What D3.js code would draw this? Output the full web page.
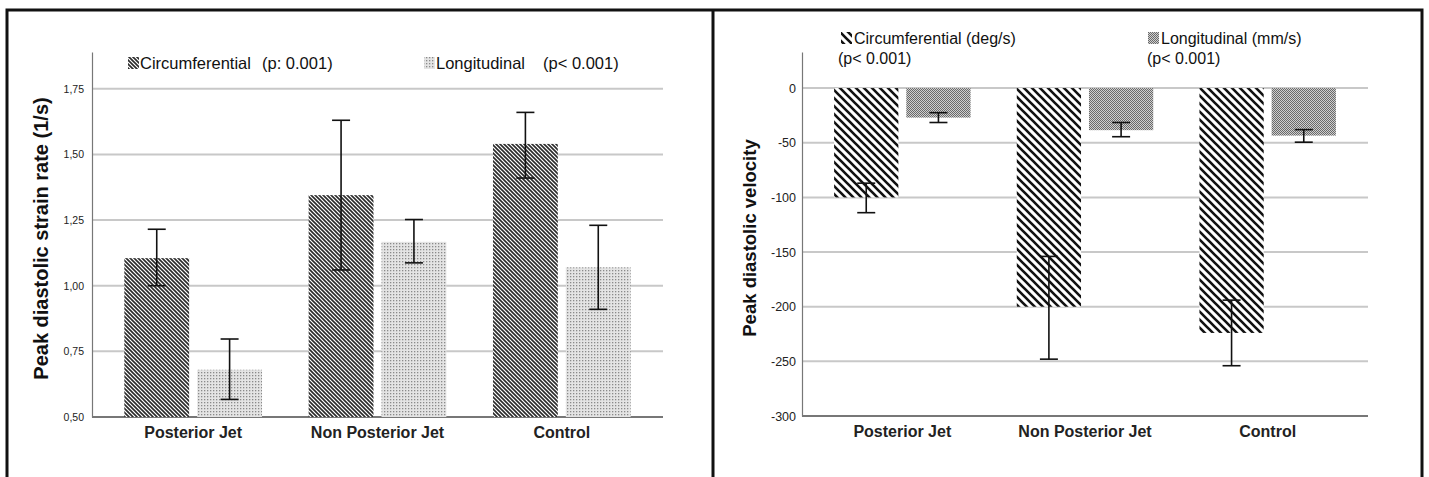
<!DOCTYPE html>
<html>
<head>
<meta charset="utf-8">
<script src="https://cdn.jsdelivr.net/npm/d3@7"></script>
<style>
  body { margin: 0; background: #fff; }
  text { font-family: "Liberation Sans", Arial, sans-serif; }
</style>
</head>
<body>
<div id="chart"></div>
<script>
// Data
const categories = ["Posterior Jet", "Non Posterior Jet", "Control"];

const strainCirc = [1.105, 1.345, 1.54];
const strainCircLo = [1.0, 1.06, 1.41];
const strainCircHi = [1.215, 1.63, 1.66];
const strainLong = [0.68, 1.167, 1.07];
const strainLongLo = [0.567, 1.087, 0.91];
const strainLongHi = [0.797, 1.252, 1.23];
const strainTicks = [0.5, 0.75, 1.0, 1.25, 1.5, 1.75];

const velCirc = [-100, -200, -224];
const velCircLo = [-114, -248, -254];
const velCircHi = [-87, -154, -194];
const velLong = [-27, -38.5, -43.5];
const velLongLo = [-31.5, -44.5, -49.5];
const velLongHi = [-22.5, -31.5, -38];
const velTicks = [0, -50, -100, -150, -200, -250, -300];

const width = 1429;
const height = 477;

const svg = d3.select("#chart").append("svg")
  .attr("width", width)
  .attr("height", height);

// Patterns
const defs = svg.append("defs");

const p1 = defs.append("pattern").attr("id", "diagDense")
  .attr("patternUnits", "userSpaceOnUse").attr("width", 4).attr("height", 4);
p1.append("rect").attr("width", 4).attr("height", 4).attr("fill", "#fff");
p1.append("path").attr("d", "M-1,-1 L5,5 M-1,3 L1,5 M3,-1 L5,1")
  .attr("stroke", "#2a2a2a").attr("stroke-width", 1.6);

const p2 = defs.append("pattern").attr("id", "dots")
  .attr("patternUnits", "userSpaceOnUse").attr("width", 3).attr("height", 3);
p2.append("rect").attr("width", 3).attr("height", 3).attr("fill", "#e4e4e4");
p2.append("rect").attr("width", 1.3).attr("height", 1.3).attr("fill", "#8a8a8a");

const p3 = defs.append("pattern").attr("id", "diagWide")
  .attr("patternUnits", "userSpaceOnUse").attr("width", 8).attr("height", 8);
p3.append("rect").attr("width", 8).attr("height", 8).attr("fill", "#fff");
p3.append("path").attr("d", "M-2,-2 L10,10 M-2,6 L2,10 M6,-2 L10,2")
  .attr("stroke", "#111").attr("stroke-width", 2.6);

const p4 = defs.append("pattern").attr("id", "checker")
  .attr("patternUnits", "userSpaceOnUse").attr("width", 2).attr("height", 2);
p4.append("rect").attr("width", 2).attr("height", 2).attr("fill", "#cfcfcf");
p4.append("rect").attr("width", 1).attr("height", 1).attr("fill", "#6a6a6a");
p4.append("rect").attr("x", 1).attr("y", 1).attr("width", 1).attr("height", 1).attr("fill", "#6a6a6a");

// Panel borders
svg.append("path")
  .attr("d", `M7,${height + 5} L7,10 L1422,10 L1422,${height + 5} M713,10 L713,${height + 5}`)
  .attr("fill", "none").attr("stroke", "#111").attr("stroke-width", 3);

function panel(opts) {
  const { x0, x1, yTop, yBottom, domain, ticks, tickFmt, tickSize, tickPad, series, title, titleX, titleSize } = opts;
  const g = svg.append("g");

  const x = d3.scaleBand().domain(categories).range([x0 + 9, x1 - 9]);
  const xInner = d3.scaleBand().domain([0, 1]).range([0, x.bandwidth()])
    .paddingInner(0.11).paddingOuter(0.32);
  const y = d3.scaleLinear().domain(domain).range([yBottom, yTop]);

  // gridlines
  g.append("g").selectAll("line").data(ticks.filter(t => t !== domain[0])).join("line")
    .attr("x1", x0).attr("x2", x1)
    .attr("y1", d => y(d)).attr("y2", d => y(d))
    .attr("stroke", "#c8c8c8").attr("stroke-width", 2);

  // y axis
  const yAxis = g.append("g").attr("transform", `translate(${x0},0)`)
    .call(d3.axisLeft(y).tickValues(ticks).tickFormat(tickFmt).tickSize(0).tickPadding(tickPad));
  yAxis.select(".domain").attr("stroke", "#777").attr("stroke-width", 1.2);
  yAxis.selectAll("text").attr("font-size", tickSize).attr("fill", "#222");

  // x axis
  const baseY = y(domain[0]);
  const xAxis = g.append("g").attr("transform", `translate(0,${baseY})`)
    .call(d3.axisBottom(x).tickSize(0).tickPadding(10));
  xAxis.select(".domain").attr("stroke", "#777").attr("stroke-width", 2.2)
    .attr("d", `M${x0},0H${x1}`);
  xAxis.selectAll("text").attr("font-size", 16).attr("font-weight", "bold").attr("fill", "#222");

  // bars
  series.forEach((s, si) => {
    const zero = y(s.base);
    g.append("g").selectAll("rect").data(categories).join("rect")
      .attr("x", d => x(d) + xInner(si))
      .attr("width", xInner.bandwidth())
      .attr("y", (d, i) => Math.min(y(s.values[i]), zero))
      .attr("height", (d, i) => Math.abs(y(s.values[i]) - zero))
      .attr("fill", `url(#${s.pattern})`);

    const eb = g.append("g").attr("stroke", "#111").attr("stroke-width", 1.6);
    categories.forEach((c, i) => {
      const cx = x(c) + xInner(si) + xInner.bandwidth() / 2;
      eb.append("line").attr("x1", cx).attr("x2", cx)
        .attr("y1", y(s.lo[i])).attr("y2", y(s.hi[i]));
      [s.lo[i], s.hi[i]].forEach(v => {
        eb.append("line").attr("x1", cx - 9).attr("x2", cx + 9)
          .attr("y1", y(v)).attr("y2", y(v));
      });
    });
  });

  // y title
  g.append("text")
    .attr("transform", `translate(${titleX},${(yTop + yBottom) / 2 + 4}) rotate(-90)`)
    .attr("text-anchor", "middle")
    .attr("font-size", titleSize).attr("font-weight", "bold").attr("fill", "#111")
    .text(title);
  return g;
}

panel({
  x0: 92, x1: 663, yTop: 52, yBottom: 417,
  domain: [0.5, 1.89], ticks: strainTicks,
  tickFmt: d => d3.format(".2f")(d).replace(".", ","), tickSize: 10.5, tickPad: 8,
  series: [
    { values: strainCirc, lo: strainCircLo, hi: strainCircHi, pattern: "diagDense", base: 0.5 },
    { values: strainLong, lo: strainLongLo, hi: strainLongHi, pattern: "dots", base: 0.5 }
  ],
  title: "Peak diastolic strain rate (1/s)", titleX: 48, titleSize: 20
});

panel({
  x0: 802, x1: 1368, yTop: 52, yBottom: 416,
  domain: [-300, 33], ticks: velTicks,
  tickFmt: d => d3.format("d")(d).replace("\u2212", "-"), tickSize: 12.5, tickPad: 6,
  series: [
    { values: velCirc, lo: velCircLo, hi: velCircHi, pattern: "diagWide", base: 0 },
    { values: velLong, lo: velLongLo, hi: velLongHi, pattern: "checker", base: 0 }
  ],
  title: "Peak diastolic velocity", titleX: 756, titleSize: 18.5
});

// Legends
function legendItem(px, py, pattern, lines, size, lineGap) {
  const g = svg.append("g");
  g.append("rect").attr("x", px).attr("y", py - 12).attr("width", 11).attr("height", 12)
    .attr("fill", `url(#${pattern})`);
  lines.forEach((l, i) => {
    g.append("text").attr("x", l.dx + px).attr("y", py + i * lineGap)
      .attr("font-size", size).attr("fill", "#111").text(l.t);
  });
}
legendItem(128, 69, "diagDense", [{ t: "Circumferential", dx: 12 }], 16.5, 0);
svg.append("text").attr("x", 262).attr("y", 69).attr("font-size", 16.5).attr("fill", "#111").text("(p: 0.001)");
legendItem(424, 69, "dots", [{ t: "Longitudinal", dx: 12 }], 16.5, 0);
svg.append("text").attr("x", 543).attr("y", 69).attr("font-size", 16.5).attr("fill", "#111").text("(p< 0.001)");

legendItem(841, 44, "diagWide", [{ t: "Circumferential (deg/s)", dx: 13 }, { t: "(p< 0.001)", dx: -3 }], 16, 20);
legendItem(1148, 44, "checker", [{ t: "Longitudinal (mm/s)", dx: 13 }, { t: "(p< 0.001)", dx: -1 }], 16, 20);
</script>
</body>
</html>
